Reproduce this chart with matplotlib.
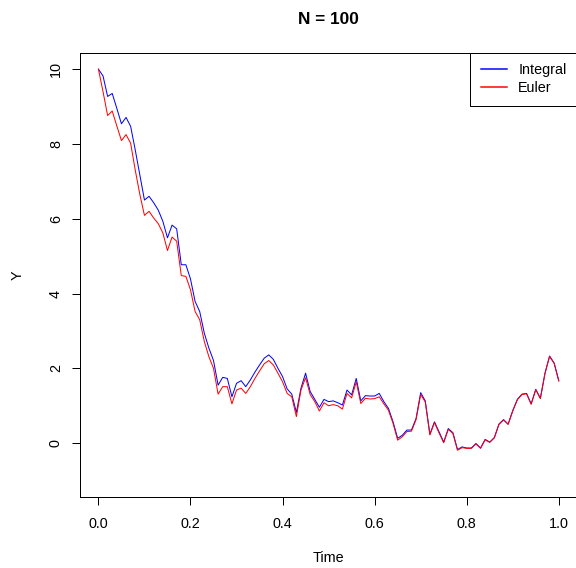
import matplotlib
matplotlib.use("Agg")
import matplotlib.pyplot as plt
import numpy as np

plt.rcParams["font.family"] = ["Liberation Sans", "DejaVu Sans"]

N = 100
time = np.linspace(0, 1, N + 1)

integral = [
    10.00, 9.82, 9.27, 9.35, 8.95, 8.54, 8.71, 8.47, 7.84, 7.17,
    6.50, 6.60, 6.43, 6.23, 5.93, 5.49, 5.83, 5.73, 4.77, 4.77,
    4.39, 3.79, 3.52, 2.94, 2.54, 2.21, 1.55, 1.76, 1.73, 1.24,
    1.60, 1.67, 1.51, 1.69, 1.90, 2.09, 2.27, 2.36, 2.24, 2.00,
    1.78, 1.45, 1.31, 0.82, 1.47, 1.87, 1.38, 1.17, 0.96, 1.17,
    1.11, 1.13, 1.08, 1.02, 1.42, 1.29, 1.73, 1.13, 1.27, 1.26,
    1.26, 1.33, 1.11, 0.93, 0.57, 0.13, 0.21, 0.35, 0.35, 0.66,
    1.35, 1.13, 0.24, 0.57, 0.30, 0.03, 0.39, 0.28, -0.17, -0.10,
    -0.13, -0.13, -0.01, -0.13, 0.10, 0.03, 0.15, 0.51, 0.63, 0.51,
    0.87, 1.17, 1.31, 1.33, 1.05, 1.44, 1.20, 1.87, 2.33, 2.14,
    1.67,
]

euler = [
    10.00, 9.40, 8.76, 8.88, 8.48, 8.09, 8.25, 8.02, 7.30, 6.65,
    6.09, 6.20, 6.02, 5.87, 5.62, 5.15, 5.51, 5.40, 4.48, 4.46,
    4.10, 3.52, 3.30, 2.72, 2.31, 2.00, 1.31, 1.51, 1.51, 1.05,
    1.42, 1.47, 1.33, 1.51, 1.73, 1.93, 2.12, 2.21, 2.09, 1.87,
    1.64, 1.33, 1.24, 0.71, 1.42, 1.75, 1.30, 1.11, 0.86, 1.08,
    1.00, 1.03, 1.00, 0.91, 1.33, 1.21, 1.64, 1.06, 1.20, 1.18,
    1.19, 1.24, 1.05, 0.88, 0.53, 0.08, 0.17, 0.31, 0.32, 0.63,
    1.30, 1.10, 0.22, 0.55, 0.27, 0.01, 0.37, 0.26, -0.19, -0.12,
    -0.14, -0.14, -0.02, -0.14, 0.09, 0.02, 0.14, 0.50, 0.62, 0.50,
    0.86, 1.16, 1.30, 1.32, 1.04, 1.43, 1.19, 1.86, 2.32, 2.13,
    1.66,
]

x_ticks = [0.0, 0.2, 0.4, 0.6, 0.8, 1.0]
y_ticks = [0, 2, 4, 6, 8, 10]

W, H = 576, 568
fig = plt.figure(figsize=(W / 72, H / 72), dpi=72)
# plot region in pixels (R style, right edge runs just past the image)
left, right, top, bottom = 80, 577.2, 52.7, 497
ax = fig.add_axes([left / W, 1 - bottom / H, (right - left) / W, (bottom - top) / H])

ax.plot(time, integral, color="#0000FF", lw=1.0, label="Integral")
ax.plot(time, euler, color="#FF0000", lw=1.0, label="Euler")

ax.set_xlim(-0.04, 1.04)
ax.set_ylim(-1.44, 10.44)
ax.set_xticks(x_ticks)
ax.set_xticklabels(["0.0", "0.2", "0.4", "0.6", "0.8", "1.0"])
ax.set_yticks(y_ticks)
ax.set_yticklabels([str(v) for v in y_ticks], rotation=90, va="center")
ax.tick_params(direction="out", length=8, width=1, labelsize=14.4, colors="black")
ax.tick_params(axis="x", pad=12)
ax.tick_params(axis="y", pad=9)
for s in ax.spines.values():
    s.set_linewidth(1.0)
    s.set_color("black")

ax.set_title("N = 100", fontsize=17.3, fontweight="bold", pad=29)
ax.set_xlabel("Time", fontsize=14.4)
ax.set_ylabel("Y", fontsize=14.4)
ax.xaxis.set_label_coords(0.5, -(558 - bottom) / (bottom - top))
ax.xaxis.label.set_va("center")
ax.yaxis.set_label_coords(-(left - 18) / (right - left), 0.5)
ax.yaxis.label.set_va("center")

leg = ax.legend(loc="upper right", bbox_to_anchor=(1, 1), borderaxespad=0,
                fancybox=False, framealpha=1, edgecolor="black", fontsize=14.4,
                handlelength=1.8, handletextpad=0.8, borderpad=0.75,
                labelspacing=0.26)
leg.get_frame().set_linewidth(1.0)
for h in leg.get_lines():
    h.set_linewidth(1.5)

fig.savefig("out.png", dpi=72)
